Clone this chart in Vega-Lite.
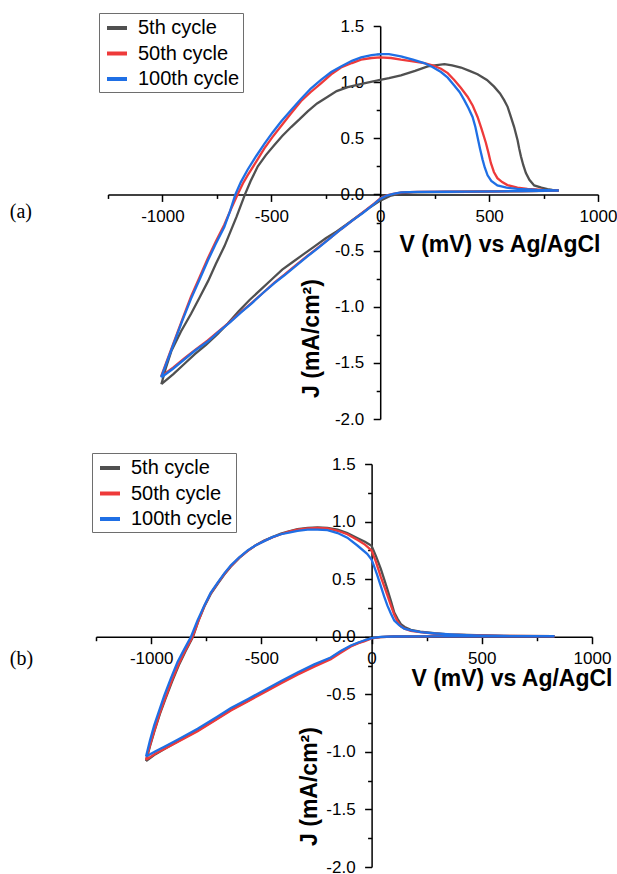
{
  "$schema": "https://vega.github.io/schema/vega-lite/v6.json",
  "background": "white",
  "padding": {"left": 9, "top": 12, "right": 0, "bottom": 0},
  "config": {"view": {"stroke": null}, "font": "Liberation Sans"},
  "columns": 1,
  "bounds": "full",
  "spacing": 25,
  "resolve": {"scale": {"color": "shared"}, "legend": {"color": "independent"}},
  "concat": [
    {
      "width": 502,
      "height": 393,
      "resolve": {"axis": {"x": "independent", "y": "independent"}},
      "layer": [
        {
          "data": {"values": [
            {"cycle": "5th cycle", "V": -1005, "J": -1.69}, {"cycle": "5th cycle", "V": -950, "J": -1.6}, {"cycle": "5th cycle", "V": -900, "J": -1.51}, {"cycle": "5th cycle", "V": -850, "J": -1.42}, {"cycle": "5th cycle", "V": -800, "J": -1.34}, {"cycle": "5th cycle", "V": -745, "J": -1.24}, {"cycle": "5th cycle", "V": -700, "J": -1.15}, {"cycle": "5th cycle", "V": -650, "J": -1.04}, {"cycle": "5th cycle", "V": -600, "J": -0.94}, {"cycle": "5th cycle", "V": -550, "J": -0.85}, {"cycle": "5th cycle", "V": -500, "J": -0.76}, {"cycle": "5th cycle", "V": -450, "J": -0.67}, {"cycle": "5th cycle", "V": -400, "J": -0.6}, {"cycle": "5th cycle", "V": -350, "J": -0.53}, {"cycle": "5th cycle", "V": -300, "J": -0.46}, {"cycle": "5th cycle", "V": -250, "J": -0.39}, {"cycle": "5th cycle", "V": -200, "J": -0.33}, {"cycle": "5th cycle", "V": -150, "J": -0.26}, {"cycle": "5th cycle", "V": -100, "J": -0.19}, {"cycle": "5th cycle", "V": -50, "J": -0.12}, {"cycle": "5th cycle", "V": 0, "J": -0.055}, {"cycle": "5th cycle", "V": 50, "J": -0.01}, {"cycle": "5th cycle", "V": 100, "J": 0.012}, {"cycle": "5th cycle", "V": 150, "J": 0.018}, {"cycle": "5th cycle", "V": 250, "J": 0.02}, {"cycle": "5th cycle", "V": 400, "J": 0.024}, {"cycle": "5th cycle", "V": 550, "J": 0.027}, {"cycle": "5th cycle", "V": 700, "J": 0.03}, {"cycle": "5th cycle", "V": 820, "J": 0.035},
            {"cycle": "5th cycle", "V": 790, "J": 0.04}, {"cycle": "5th cycle", "V": 768, "J": 0.047}, {"cycle": "5th cycle", "V": 740, "J": 0.06}, {"cycle": "5th cycle", "V": 707, "J": 0.08}, {"cycle": "5th cycle", "V": 685, "J": 0.13}, {"cycle": "5th cycle", "V": 669, "J": 0.19}, {"cycle": "5th cycle", "V": 657, "J": 0.26}, {"cycle": "5th cycle", "V": 646, "J": 0.34}, {"cycle": "5th cycle", "V": 638, "J": 0.41}, {"cycle": "5th cycle", "V": 631, "J": 0.48}, {"cycle": "5th cycle", "V": 615, "J": 0.6}, {"cycle": "5th cycle", "V": 600, "J": 0.69}, {"cycle": "5th cycle", "V": 585, "J": 0.78}, {"cycle": "5th cycle", "V": 569, "J": 0.84}, {"cycle": "5th cycle", "V": 550, "J": 0.9}, {"cycle": "5th cycle", "V": 523, "J": 0.96}, {"cycle": "5th cycle", "V": 490, "J": 1.02}, {"cycle": "5th cycle", "V": 447, "J": 1.07}, {"cycle": "5th cycle", "V": 410, "J": 1.1}, {"cycle": "5th cycle", "V": 371, "J": 1.13}, {"cycle": "5th cycle", "V": 330, "J": 1.15}, {"cycle": "5th cycle", "V": 295, "J": 1.16}, {"cycle": "5th cycle", "V": 250, "J": 1.15}, {"cycle": "5th cycle", "V": 218, "J": 1.14}, {"cycle": "5th cycle", "V": 160, "J": 1.1}, {"cycle": "5th cycle", "V": 95, "J": 1.06}, {"cycle": "5th cycle", "V": 40, "J": 1.035}, {"cycle": "5th cycle", "V": 0, "J": 1.02}, {"cycle": "5th cycle", "V": -75, "J": 0.99}, {"cycle": "5th cycle", "V": -149, "J": 0.955}, {"cycle": "5th cycle", "V": -200, "J": 0.92}, {"cycle": "5th cycle", "V": -241, "J": 0.87}, {"cycle": "5th cycle", "V": -290, "J": 0.81}, {"cycle": "5th cycle", "V": -333, "J": 0.74}, {"cycle": "5th cycle", "V": -370, "J": 0.67}, {"cycle": "5th cycle", "V": -409, "J": 0.6}, {"cycle": "5th cycle", "V": -450, "J": 0.52}, {"cycle": "5th cycle", "V": -486, "J": 0.44}, {"cycle": "5th cycle", "V": -525, "J": 0.35}, {"cycle": "5th cycle", "V": -562, "J": 0.25}, {"cycle": "5th cycle", "V": -595, "J": 0.12}, {"cycle": "5th cycle", "V": -621, "J": 0.0}, {"cycle": "5th cycle", "V": -660, "J": -0.2}, {"cycle": "5th cycle", "V": -715, "J": -0.46}, {"cycle": "5th cycle", "V": -755, "J": -0.62}, {"cycle": "5th cycle", "V": -790, "J": -0.77}, {"cycle": "5th cycle", "V": -830, "J": -0.92}, {"cycle": "5th cycle", "V": -868, "J": -1.06}, {"cycle": "5th cycle", "V": -915, "J": -1.22}, {"cycle": "5th cycle", "V": -958, "J": -1.39}, {"cycle": "5th cycle", "V": -985, "J": -1.55}, {"cycle": "5th cycle", "V": -1005, "J": -1.69},

            {"cycle": "50th cycle", "V": -1006, "J": -1.62}, {"cycle": "50th cycle", "V": -950, "J": -1.54}, {"cycle": "50th cycle", "V": -900, "J": -1.46}, {"cycle": "50th cycle", "V": -850, "J": -1.385}, {"cycle": "50th cycle", "V": -792, "J": -1.3}, {"cycle": "50th cycle", "V": -740, "J": -1.215}, {"cycle": "50th cycle", "V": -690, "J": -1.135}, {"cycle": "50th cycle", "V": -639, "J": -1.045}, {"cycle": "50th cycle", "V": -590, "J": -0.965}, {"cycle": "50th cycle", "V": -540, "J": -0.88}, {"cycle": "50th cycle", "V": -486, "J": -0.785}, {"cycle": "50th cycle", "V": -440, "J": -0.715}, {"cycle": "50th cycle", "V": -390, "J": -0.635}, {"cycle": "50th cycle", "V": -333, "J": -0.545}, {"cycle": "50th cycle", "V": -280, "J": -0.465}, {"cycle": "50th cycle", "V": -230, "J": -0.39}, {"cycle": "50th cycle", "V": -180, "J": -0.31}, {"cycle": "50th cycle", "V": -130, "J": -0.235}, {"cycle": "50th cycle", "V": -80, "J": -0.16}, {"cycle": "50th cycle", "V": -27, "J": -0.08}, {"cycle": "50th cycle", "V": 0, "J": -0.035}, {"cycle": "50th cycle", "V": 30, "J": -0.008}, {"cycle": "50th cycle", "V": 60, "J": 0.006}, {"cycle": "50th cycle", "V": 100, "J": 0.018}, {"cycle": "50th cycle", "V": 172, "J": 0.022}, {"cycle": "50th cycle", "V": 300, "J": 0.024}, {"cycle": "50th cycle", "V": 400, "J": 0.025}, {"cycle": "50th cycle", "V": 550, "J": 0.028}, {"cycle": "50th cycle", "V": 650, "J": 0.03}, {"cycle": "50th cycle", "V": 820, "J": 0.035},
            {"cycle": "50th cycle", "V": 750, "J": 0.04}, {"cycle": "50th cycle", "V": 676, "J": 0.05}, {"cycle": "50th cycle", "V": 630, "J": 0.06}, {"cycle": "50th cycle", "V": 584, "J": 0.083}, {"cycle": "50th cycle", "V": 560, "J": 0.11}, {"cycle": "50th cycle", "V": 538, "J": 0.145}, {"cycle": "50th cycle", "V": 522, "J": 0.2}, {"cycle": "50th cycle", "V": 508, "J": 0.28}, {"cycle": "50th cycle", "V": 497, "J": 0.37}, {"cycle": "50th cycle", "V": 485, "J": 0.46}, {"cycle": "50th cycle", "V": 466, "J": 0.58}, {"cycle": "50th cycle", "V": 447, "J": 0.69}, {"cycle": "50th cycle", "V": 425, "J": 0.79}, {"cycle": "50th cycle", "V": 401, "J": 0.87}, {"cycle": "50th cycle", "V": 370, "J": 0.95}, {"cycle": "50th cycle", "V": 340, "J": 1.02}, {"cycle": "50th cycle", "V": 310, "J": 1.08}, {"cycle": "50th cycle", "V": 279, "J": 1.12}, {"cycle": "50th cycle", "V": 240, "J": 1.15}, {"cycle": "50th cycle", "V": 202, "J": 1.17}, {"cycle": "50th cycle", "V": 150, "J": 1.185}, {"cycle": "50th cycle", "V": 95, "J": 1.2}, {"cycle": "50th cycle", "V": 50, "J": 1.215}, {"cycle": "50th cycle", "V": 0, "J": 1.22}, {"cycle": "50th cycle", "V": -40, "J": 1.215}, {"cycle": "50th cycle", "V": -88, "J": 1.2}, {"cycle": "50th cycle", "V": -130, "J": 1.17}, {"cycle": "50th cycle", "V": -180, "J": 1.13}, {"cycle": "50th cycle", "V": -225, "J": 1.07}, {"cycle": "50th cycle", "V": -272, "J": 0.99}, {"cycle": "50th cycle", "V": -320, "J": 0.91}, {"cycle": "50th cycle", "V": -364, "J": 0.83}, {"cycle": "50th cycle", "V": -410, "J": 0.72}, {"cycle": "50th cycle", "V": -455, "J": 0.61}, {"cycle": "50th cycle", "V": -495, "J": 0.51}, {"cycle": "50th cycle", "V": -532, "J": 0.41}, {"cycle": "50th cycle", "V": -570, "J": 0.29}, {"cycle": "50th cycle", "V": -609, "J": 0.17}, {"cycle": "50th cycle", "V": -630, "J": 0.1}, {"cycle": "50th cycle", "V": -655, "J": 0.0}, {"cycle": "50th cycle", "V": -685, "J": -0.13}, {"cycle": "50th cycle", "V": -716, "J": -0.27}, {"cycle": "50th cycle", "V": -755, "J": -0.42}, {"cycle": "50th cycle", "V": -792, "J": -0.57}, {"cycle": "50th cycle", "V": -830, "J": -0.74}, {"cycle": "50th cycle", "V": -869, "J": -0.91}, {"cycle": "50th cycle", "V": -910, "J": -1.12}, {"cycle": "50th cycle", "V": -960, "J": -1.38}, {"cycle": "50th cycle", "V": -1006, "J": -1.62},

            {"cycle": "100th cycle", "V": -1006, "J": -1.63}, {"cycle": "100th cycle", "V": -950, "J": -1.55}, {"cycle": "100th cycle", "V": -900, "J": -1.47}, {"cycle": "100th cycle", "V": -850, "J": -1.39}, {"cycle": "100th cycle", "V": -792, "J": -1.31}, {"cycle": "100th cycle", "V": -740, "J": -1.22}, {"cycle": "100th cycle", "V": -690, "J": -1.14}, {"cycle": "100th cycle", "V": -639, "J": -1.05}, {"cycle": "100th cycle", "V": -590, "J": -0.97}, {"cycle": "100th cycle", "V": -540, "J": -0.88}, {"cycle": "100th cycle", "V": -486, "J": -0.79}, {"cycle": "100th cycle", "V": -440, "J": -0.72}, {"cycle": "100th cycle", "V": -390, "J": -0.64}, {"cycle": "100th cycle", "V": -333, "J": -0.55}, {"cycle": "100th cycle", "V": -280, "J": -0.47}, {"cycle": "100th cycle", "V": -230, "J": -0.39}, {"cycle": "100th cycle", "V": -180, "J": -0.31}, {"cycle": "100th cycle", "V": -130, "J": -0.235}, {"cycle": "100th cycle", "V": -80, "J": -0.165}, {"cycle": "100th cycle", "V": -27, "J": -0.085}, {"cycle": "100th cycle", "V": 0, "J": -0.04}, {"cycle": "100th cycle", "V": 30, "J": -0.01}, {"cycle": "100th cycle", "V": 60, "J": 0.005}, {"cycle": "100th cycle", "V": 95, "J": 0.018}, {"cycle": "100th cycle", "V": 172, "J": 0.022}, {"cycle": "100th cycle", "V": 300, "J": 0.024}, {"cycle": "100th cycle", "V": 401, "J": 0.025}, {"cycle": "100th cycle", "V": 550, "J": 0.028}, {"cycle": "100th cycle", "V": 650, "J": 0.03}, {"cycle": "100th cycle", "V": 820, "J": 0.035},
            {"cycle": "100th cycle", "V": 720, "J": 0.04}, {"cycle": "100th cycle", "V": 630, "J": 0.05}, {"cycle": "100th cycle", "V": 580, "J": 0.06}, {"cycle": "100th cycle", "V": 538, "J": 0.08}, {"cycle": "100th cycle", "V": 510, "J": 0.12}, {"cycle": "100th cycle", "V": 493, "J": 0.17}, {"cycle": "100th cycle", "V": 480, "J": 0.24}, {"cycle": "100th cycle", "V": 470, "J": 0.31}, {"cycle": "100th cycle", "V": 458, "J": 0.41}, {"cycle": "100th cycle", "V": 447, "J": 0.51}, {"cycle": "100th cycle", "V": 437, "J": 0.6}, {"cycle": "100th cycle", "V": 424, "J": 0.69}, {"cycle": "100th cycle", "V": 405, "J": 0.77}, {"cycle": "100th cycle", "V": 386, "J": 0.84}, {"cycle": "100th cycle", "V": 365, "J": 0.91}, {"cycle": "100th cycle", "V": 340, "J": 0.97}, {"cycle": "100th cycle", "V": 310, "J": 1.04}, {"cycle": "100th cycle", "V": 279, "J": 1.09}, {"cycle": "100th cycle", "V": 240, "J": 1.135}, {"cycle": "100th cycle", "V": 202, "J": 1.17}, {"cycle": "100th cycle", "V": 150, "J": 1.2}, {"cycle": "100th cycle", "V": 95, "J": 1.23}, {"cycle": "100th cycle", "V": 40, "J": 1.25}, {"cycle": "100th cycle", "V": 0, "J": 1.25}, {"cycle": "100th cycle", "V": -40, "J": 1.24}, {"cycle": "100th cycle", "V": -88, "J": 1.22}, {"cycle": "100th cycle", "V": -130, "J": 1.19}, {"cycle": "100th cycle", "V": -180, "J": 1.14}, {"cycle": "100th cycle", "V": -225, "J": 1.09}, {"cycle": "100th cycle", "V": -272, "J": 1.02}, {"cycle": "100th cycle", "V": -320, "J": 0.94}, {"cycle": "100th cycle", "V": -364, "J": 0.85}, {"cycle": "100th cycle", "V": -410, "J": 0.75}, {"cycle": "100th cycle", "V": -455, "J": 0.65}, {"cycle": "100th cycle", "V": -495, "J": 0.55}, {"cycle": "100th cycle", "V": -532, "J": 0.45}, {"cycle": "100th cycle", "V": -570, "J": 0.34}, {"cycle": "100th cycle", "V": -609, "J": 0.22}, {"cycle": "100th cycle", "V": -640, "J": 0.11}, {"cycle": "100th cycle", "V": -665, "J": 0.0}, {"cycle": "100th cycle", "V": -690, "J": -0.15}, {"cycle": "100th cycle", "V": -716, "J": -0.29}, {"cycle": "100th cycle", "V": -755, "J": -0.44}, {"cycle": "100th cycle", "V": -792, "J": -0.59}, {"cycle": "100th cycle", "V": -830, "J": -0.76}, {"cycle": "100th cycle", "V": -869, "J": -0.93}, {"cycle": "100th cycle", "V": -910, "J": -1.13}, {"cycle": "100th cycle", "V": -960, "J": -1.39}, {"cycle": "100th cycle", "V": -1006, "J": -1.63}
          ]},
          "encoding": {
            "x": {"field": "V", "type": "quantitative", "scale": {"domain": [-1250, 1000], "range": [12, 502], "nice": false, "zero": false},
              "axis": {"orient": "bottom", "offset": -224.57, "values": [-1250, -1000, -750, -500, -250, 0, 250, 500, 750, 1000],
                "labelExpr": "datum.value % 500 === 0 ? toString(datum.value) : ''",
                "tickSize": {"condition": {"test": "datum.value % 500 === 0", "value": 7}, "value": 4},
                "tickWidth": 1.5, "tickColor": "black", "domainColor": "black", "domainWidth": 1.5, "grid": false,
                "labelFont": "Liberation Sans", "labelFontSize": 17, "labelColor": "black", "labelPadding": 7, "labelOverlap": false, "labelFlush": false,
                "title": "V (mV) vs Ag/AgCl", "titleFont": "Liberation Sans", "titleFontSize": 23, "titleFontWeight": "bold", "titleColor": "black",
                "titleX": 504, "titleY": 50, "titleAlign": "right", "titleBaseline": "middle"}},
            "y": {"field": "J", "type": "quantitative", "scale": {"domain": [-2, 1.5], "nice": false, "zero": false},
              "axis": {"orient": "left", "offset": -284.2, "values": [-2, -1.75, -1.5, -1.25, -1, -0.75, -0.5, -0.25, 0, 0.25, 0.5, 0.75, 1, 1.25, 1.5],
                "labelExpr": "datum.value % 0.5 === 0 ? replace(format(datum.value, '.1f'), '\u2212', '-') : ''",
                "tickSize": {"condition": {"test": "datum.value % 0.5 === 0", "value": 7}, "value": 4},
                "tickWidth": 1.5, "tickColor": "black", "domainColor": "black", "domainWidth": 1.5, "grid": false,
                "labelFont": "Liberation Sans", "labelFontSize": 17, "labelColor": "black", "labelPadding": 9.5, "labelOverlap": false, "labelFlush": false,
                "title": "J (mA/cm²)", "titleFont": "Liberation Sans", "titleFontSize": 23, "titleFontWeight": "bold", "titleColor": "black",
                "titleAngle": -90, "titleX": -69, "titleY": 312, "titleAlign": "center", "titleBaseline": "middle"}},
            "color": {"field": "cycle", "type": "nominal",
              "scale": {"domain": ["5th cycle", "50th cycle", "100th cycle"], "range": ["#505050", "#ee3a3a", "#1f6fe5"]},
              "legend": {"orient": "none", "legendX": 3, "legendY": -13, "title": null, "symbolType": "stroke", "symbolStrokeWidth": 4, "symbolSize": 400, "symbolOffset": 3,
                "labelFont": "Liberation Sans", "labelFontSize": 20, "labelColor": "black", "labelOffset": 9, "rowPadding": 3.5, "padding": 3,
                "strokeColor": "#6e6e6e", "fillColor": "white"}},
            "order": {"value": null}
          },
          "layer": [
            {"transform": [{"filter": "datum.cycle === '5th cycle'"}], "mark": {"type": "line", "strokeWidth": 2.3}},
            {"transform": [{"filter": "datum.cycle === '50th cycle'"}], "mark": {"type": "line", "strokeWidth": 2.3}},
            {"transform": [{"filter": "datum.cycle === '100th cycle'"}], "mark": {"type": "line", "strokeWidth": 2.3}}
          ]
        },
        {
          "data": {"values": [{"panel": "(a)"}]},
          "mark": {"type": "text", "font": "Liberation Serif", "fontSize": 20, "color": "black", "align": "left", "baseline": "middle"},
          "encoding": {
            "x": {"datum": -1701, "scale": {"domain": [-1250, 1000], "range": [12, 502], "nice": false, "zero": false}, "axis": null},
            "y": {"datum": -0.16, "scale": {"domain": [-2, 1.5], "nice": false, "zero": false}, "axis": null},
            "text": {"field": "panel"}
          }
        }
      ]
    },
    {
      "width": 496,
      "height": 403,
      "resolve": {"axis": {"x": "independent", "y": "independent"}},
      "layer": [
        {
          "data": {"values": [
            {"cycle": "5th cycle", "V": -1023, "J": -1.08}, {"cycle": "5th cycle", "V": -980, "J": -1.02}, {"cycle": "5th cycle", "V": -940, "J": -0.975}, {"cycle": "5th cycle", "V": -880, "J": -0.91}, {"cycle": "5th cycle", "V": -789, "J": -0.815}, {"cycle": "5th cycle", "V": -700, "J": -0.71}, {"cycle": "5th cycle", "V": -638, "J": -0.635}, {"cycle": "5th cycle", "V": -560, "J": -0.555}, {"cycle": "5th cycle", "V": -487, "J": -0.475}, {"cycle": "5th cycle", "V": -410, "J": -0.395}, {"cycle": "5th cycle", "V": -336, "J": -0.32}, {"cycle": "5th cycle", "V": -260, "J": -0.25}, {"cycle": "5th cycle", "V": -185, "J": -0.185}, {"cycle": "5th cycle", "V": -140, "J": -0.13}, {"cycle": "5th cycle", "V": -94, "J": -0.08}, {"cycle": "5th cycle", "V": -60, "J": -0.053}, {"cycle": "5th cycle", "V": -34, "J": -0.035}, {"cycle": "5th cycle", "V": 0, "J": -0.013}, {"cycle": "5th cycle", "V": 40, "J": -0.003}, {"cycle": "5th cycle", "V": 100, "J": 0.002}, {"cycle": "5th cycle", "V": 300, "J": 0.003}, {"cycle": "5th cycle", "V": 830, "J": 0.004},
            {"cycle": "5th cycle", "V": 600, "J": 0.008}, {"cycle": "5th cycle", "V": 435, "J": 0.015}, {"cycle": "5th cycle", "V": 350, "J": 0.02}, {"cycle": "5th cycle", "V": 284, "J": 0.03}, {"cycle": "5th cycle", "V": 220, "J": 0.045}, {"cycle": "5th cycle", "V": 178, "J": 0.06}, {"cycle": "5th cycle", "V": 150, "J": 0.085}, {"cycle": "5th cycle", "V": 133, "J": 0.11}, {"cycle": "5th cycle", "V": 118, "J": 0.155}, {"cycle": "5th cycle", "V": 103, "J": 0.21}, {"cycle": "5th cycle", "V": 88, "J": 0.31}, {"cycle": "5th cycle", "V": 72, "J": 0.41}, {"cycle": "5th cycle", "V": 57, "J": 0.5}, {"cycle": "5th cycle", "V": 42, "J": 0.59}, {"cycle": "5th cycle", "V": 20, "J": 0.7}, {"cycle": "5th cycle", "V": 0, "J": 0.79}, {"cycle": "5th cycle", "V": -30, "J": 0.825}, {"cycle": "5th cycle", "V": -63, "J": 0.855}, {"cycle": "5th cycle", "V": -110, "J": 0.9}, {"cycle": "5th cycle", "V": -154, "J": 0.93}, {"cycle": "5th cycle", "V": -200, "J": 0.945}, {"cycle": "5th cycle", "V": -245, "J": 0.95}, {"cycle": "5th cycle", "V": -290, "J": 0.945}, {"cycle": "5th cycle", "V": -336, "J": 0.935}, {"cycle": "5th cycle", "V": -375, "J": 0.915}, {"cycle": "5th cycle", "V": -411, "J": 0.895}, {"cycle": "5th cycle", "V": -450, "J": 0.865}, {"cycle": "5th cycle", "V": -487, "J": 0.835}, {"cycle": "5th cycle", "V": -525, "J": 0.795}, {"cycle": "5th cycle", "V": -562, "J": 0.745}, {"cycle": "5th cycle", "V": -600, "J": 0.685}, {"cycle": "5th cycle", "V": -638, "J": 0.61}, {"cycle": "5th cycle", "V": -668, "J": 0.54}, {"cycle": "5th cycle", "V": -698, "J": 0.46}, {"cycle": "5th cycle", "V": -730, "J": 0.37}, {"cycle": "5th cycle", "V": -759, "J": 0.26}, {"cycle": "5th cycle", "V": -785, "J": 0.14}, {"cycle": "5th cycle", "V": -810, "J": 0.0}, {"cycle": "5th cycle", "V": -845, "J": -0.13}, {"cycle": "5th cycle", "V": -875, "J": -0.25}, {"cycle": "5th cycle", "V": -905, "J": -0.39}, {"cycle": "5th cycle", "V": -935, "J": -0.54}, {"cycle": "5th cycle", "V": -960, "J": -0.67}, {"cycle": "5th cycle", "V": -985, "J": -0.82}, {"cycle": "5th cycle", "V": -1005, "J": -0.95}, {"cycle": "5th cycle", "V": -1023, "J": -1.08},

            {"cycle": "50th cycle", "V": -1023, "J": -1.07}, {"cycle": "50th cycle", "V": -980, "J": -1.015}, {"cycle": "50th cycle", "V": -940, "J": -0.975}, {"cycle": "50th cycle", "V": -880, "J": -0.915}, {"cycle": "50th cycle", "V": -789, "J": -0.82}, {"cycle": "50th cycle", "V": -700, "J": -0.715}, {"cycle": "50th cycle", "V": -638, "J": -0.64}, {"cycle": "50th cycle", "V": -560, "J": -0.56}, {"cycle": "50th cycle", "V": -487, "J": -0.485}, {"cycle": "50th cycle", "V": -410, "J": -0.405}, {"cycle": "50th cycle", "V": -336, "J": -0.33}, {"cycle": "50th cycle", "V": -260, "J": -0.26}, {"cycle": "50th cycle", "V": -185, "J": -0.195}, {"cycle": "50th cycle", "V": -140, "J": -0.14}, {"cycle": "50th cycle", "V": -94, "J": -0.085}, {"cycle": "50th cycle", "V": -60, "J": -0.057}, {"cycle": "50th cycle", "V": -34, "J": -0.04}, {"cycle": "50th cycle", "V": 0, "J": -0.015}, {"cycle": "50th cycle", "V": 40, "J": -0.004}, {"cycle": "50th cycle", "V": 100, "J": 0.002}, {"cycle": "50th cycle", "V": 300, "J": 0.003}, {"cycle": "50th cycle", "V": 830, "J": 0.004},
            {"cycle": "50th cycle", "V": 600, "J": 0.007}, {"cycle": "50th cycle", "V": 435, "J": 0.014}, {"cycle": "50th cycle", "V": 350, "J": 0.019}, {"cycle": "50th cycle", "V": 284, "J": 0.027}, {"cycle": "50th cycle", "V": 220, "J": 0.04}, {"cycle": "50th cycle", "V": 178, "J": 0.05}, {"cycle": "50th cycle", "V": 150, "J": 0.07}, {"cycle": "50th cycle", "V": 133, "J": 0.09}, {"cycle": "50th cycle", "V": 118, "J": 0.13}, {"cycle": "50th cycle", "V": 103, "J": 0.19}, {"cycle": "50th cycle", "V": 88, "J": 0.27}, {"cycle": "50th cycle", "V": 72, "J": 0.36}, {"cycle": "50th cycle", "V": 57, "J": 0.44}, {"cycle": "50th cycle", "V": 42, "J": 0.52}, {"cycle": "50th cycle", "V": 20, "J": 0.65}, {"cycle": "50th cycle", "V": 0, "J": 0.75}, {"cycle": "50th cycle", "V": -30, "J": 0.8}, {"cycle": "50th cycle", "V": -63, "J": 0.84}, {"cycle": "50th cycle", "V": -110, "J": 0.89}, {"cycle": "50th cycle", "V": -154, "J": 0.92}, {"cycle": "50th cycle", "V": -200, "J": 0.94}, {"cycle": "50th cycle", "V": -245, "J": 0.945}, {"cycle": "50th cycle", "V": -290, "J": 0.94}, {"cycle": "50th cycle", "V": -336, "J": 0.93}, {"cycle": "50th cycle", "V": -375, "J": 0.912}, {"cycle": "50th cycle", "V": -411, "J": 0.89}, {"cycle": "50th cycle", "V": -450, "J": 0.863}, {"cycle": "50th cycle", "V": -487, "J": 0.832}, {"cycle": "50th cycle", "V": -525, "J": 0.795}, {"cycle": "50th cycle", "V": -562, "J": 0.745}, {"cycle": "50th cycle", "V": -600, "J": 0.686}, {"cycle": "50th cycle", "V": -638, "J": 0.613}, {"cycle": "50th cycle", "V": -668, "J": 0.545}, {"cycle": "50th cycle", "V": -698, "J": 0.465}, {"cycle": "50th cycle", "V": -730, "J": 0.375}, {"cycle": "50th cycle", "V": -759, "J": 0.265}, {"cycle": "50th cycle", "V": -785, "J": 0.14}, {"cycle": "50th cycle", "V": -812, "J": 0.0}, {"cycle": "50th cycle", "V": -848, "J": -0.13}, {"cycle": "50th cycle", "V": -878, "J": -0.25}, {"cycle": "50th cycle", "V": -908, "J": -0.39}, {"cycle": "50th cycle", "V": -937, "J": -0.54}, {"cycle": "50th cycle", "V": -962, "J": -0.67}, {"cycle": "50th cycle", "V": -986, "J": -0.82}, {"cycle": "50th cycle", "V": -1005, "J": -0.94}, {"cycle": "50th cycle", "V": -1023, "J": -1.07},

            {"cycle": "100th cycle", "V": -1023, "J": -1.04}, {"cycle": "100th cycle", "V": -980, "J": -0.995}, {"cycle": "100th cycle", "V": -940, "J": -0.955}, {"cycle": "100th cycle", "V": -880, "J": -0.895}, {"cycle": "100th cycle", "V": -789, "J": -0.8}, {"cycle": "100th cycle", "V": -700, "J": -0.695}, {"cycle": "100th cycle", "V": -638, "J": -0.62}, {"cycle": "100th cycle", "V": -560, "J": -0.54}, {"cycle": "100th cycle", "V": -487, "J": -0.465}, {"cycle": "100th cycle", "V": -410, "J": -0.385}, {"cycle": "100th cycle", "V": -336, "J": -0.31}, {"cycle": "100th cycle", "V": -260, "J": -0.24}, {"cycle": "100th cycle", "V": -185, "J": -0.18}, {"cycle": "100th cycle", "V": -140, "J": -0.125}, {"cycle": "100th cycle", "V": -94, "J": -0.076}, {"cycle": "100th cycle", "V": -60, "J": -0.05}, {"cycle": "100th cycle", "V": -34, "J": -0.033}, {"cycle": "100th cycle", "V": 0, "J": -0.012}, {"cycle": "100th cycle", "V": 40, "J": -0.002}, {"cycle": "100th cycle", "V": 100, "J": 0.002}, {"cycle": "100th cycle", "V": 300, "J": 0.003}, {"cycle": "100th cycle", "V": 830, "J": 0.004},
            {"cycle": "100th cycle", "V": 700, "J": 0.005}, {"cycle": "100th cycle", "V": 600, "J": 0.006}, {"cycle": "100th cycle", "V": 500, "J": 0.01}, {"cycle": "100th cycle", "V": 430, "J": 0.014}, {"cycle": "100th cycle", "V": 360, "J": 0.02}, {"cycle": "100th cycle", "V": 290, "J": 0.028}, {"cycle": "100th cycle", "V": 224, "J": 0.04}, {"cycle": "100th cycle", "V": 180, "J": 0.055}, {"cycle": "100th cycle", "V": 148, "J": 0.07}, {"cycle": "100th cycle", "V": 125, "J": 0.1}, {"cycle": "100th cycle", "V": 103, "J": 0.14}, {"cycle": "100th cycle", "V": 88, "J": 0.2}, {"cycle": "100th cycle", "V": 72, "J": 0.27}, {"cycle": "100th cycle", "V": 57, "J": 0.35}, {"cycle": "100th cycle", "V": 42, "J": 0.44}, {"cycle": "100th cycle", "V": 25, "J": 0.54}, {"cycle": "100th cycle", "V": 10, "J": 0.62}, {"cycle": "100th cycle", "V": 0, "J": 0.67}, {"cycle": "100th cycle", "V": -20, "J": 0.72}, {"cycle": "100th cycle", "V": -63, "J": 0.79}, {"cycle": "100th cycle", "V": -110, "J": 0.86}, {"cycle": "100th cycle", "V": -154, "J": 0.9}, {"cycle": "100th cycle", "V": -200, "J": 0.925}, {"cycle": "100th cycle", "V": -245, "J": 0.93}, {"cycle": "100th cycle", "V": -290, "J": 0.93}, {"cycle": "100th cycle", "V": -336, "J": 0.92}, {"cycle": "100th cycle", "V": -375, "J": 0.905}, {"cycle": "100th cycle", "V": -411, "J": 0.89}, {"cycle": "100th cycle", "V": -450, "J": 0.865}, {"cycle": "100th cycle", "V": -487, "J": 0.83}, {"cycle": "100th cycle", "V": -525, "J": 0.795}, {"cycle": "100th cycle", "V": -562, "J": 0.75}, {"cycle": "100th cycle", "V": -600, "J": 0.69}, {"cycle": "100th cycle", "V": -638, "J": 0.62}, {"cycle": "100th cycle", "V": -668, "J": 0.55}, {"cycle": "100th cycle", "V": -698, "J": 0.47}, {"cycle": "100th cycle", "V": -730, "J": 0.38}, {"cycle": "100th cycle", "V": -759, "J": 0.27}, {"cycle": "100th cycle", "V": -790, "J": 0.14}, {"cycle": "100th cycle", "V": -819, "J": 0.0}, {"cycle": "100th cycle", "V": -850, "J": -0.11}, {"cycle": "100th cycle", "V": -880, "J": -0.22}, {"cycle": "100th cycle", "V": -910, "J": -0.36}, {"cycle": "100th cycle", "V": -940, "J": -0.51}, {"cycle": "100th cycle", "V": -965, "J": -0.65}, {"cycle": "100th cycle", "V": -986, "J": -0.77}, {"cycle": "100th cycle", "V": -1005, "J": -0.9}, {"cycle": "100th cycle", "V": -1023, "J": -1.04}
          ]},
          "encoding": {
            "x": {"field": "V", "type": "quantitative", "scale": {"domain": [-1250, 1000], "nice": false, "zero": false},
              "axis": {"orient": "bottom", "offset": -230.3, "values": [-1250, -1000, -750, -500, -250, 0, 250, 500, 750, 1000],
                "labelExpr": "datum.value % 500 === 0 ? toString(datum.value) : ''",
                "tickSize": {"condition": {"test": "datum.value % 500 === 0", "value": 7}, "value": 4},
                "tickWidth": 1.5, "tickColor": "black", "domainColor": "black", "domainWidth": 1.5, "grid": false,
                "labelFont": "Liberation Sans", "labelFontSize": 17, "labelColor": "black", "labelPadding": 7, "labelOverlap": false, "labelFlush": false,
                "title": "V (mV) vs Ag/AgCl", "titleFont": "Liberation Sans", "titleFontSize": 23, "titleFontWeight": "bold", "titleColor": "black",
                "titleX": 516, "titleY": 42, "titleAlign": "right", "titleBaseline": "middle"}},
            "y": {"field": "J", "type": "quantitative", "scale": {"domain": [-2, 1.5], "nice": false, "zero": false},
              "axis": {"orient": "left", "offset": -275.6, "values": [-2, -1.75, -1.5, -1.25, -1, -0.75, -0.5, -0.25, 0, 0.25, 0.5, 0.75, 1, 1.25, 1.5],
                "labelExpr": "datum.value % 0.5 === 0 ? replace(format(datum.value, '.1f'), '\u2212', '-') : ''",
                "tickSize": {"condition": {"test": "datum.value % 0.5 === 0", "value": 7}, "value": 4},
                "tickWidth": 1.5, "tickColor": "black", "domainColor": "black", "domainWidth": 1.5, "grid": false,
                "labelFont": "Liberation Sans", "labelFontSize": 17, "labelColor": "black", "labelPadding": 9.5, "labelOverlap": false, "labelFlush": false,
                "title": "J (mA/cm²)", "titleFont": "Liberation Sans", "titleFontSize": 23, "titleFontWeight": "bold", "titleColor": "black",
                "titleAngle": -90, "titleX": -62, "titleY": 322, "titleAlign": "center", "titleBaseline": "middle"}},
            "color": {"field": "cycle", "type": "nominal",
              "scale": {"domain": ["5th cycle", "50th cycle", "100th cycle"], "range": ["#505050", "#ee3a3a", "#1f6fe5"]},
              "legend": {"orient": "none", "legendX": -4, "legendY": -11, "title": null, "symbolType": "stroke", "symbolStrokeWidth": 4, "symbolSize": 400, "symbolOffset": 3,
                "labelFont": "Liberation Sans", "labelFontSize": 20, "labelColor": "black", "labelOffset": 9, "rowPadding": 3.5, "padding": 3,
                "strokeColor": "#6e6e6e", "fillColor": "white"}},
            "order": {"value": null}
          },
          "layer": [
            {"transform": [{"filter": "datum.cycle === '5th cycle'"}], "mark": {"type": "line", "strokeWidth": 2.3}},
            {"transform": [{"filter": "datum.cycle === '50th cycle'"}], "mark": {"type": "line", "strokeWidth": 2.3}},
            {"transform": [{"filter": "datum.cycle === '100th cycle'"}], "mark": {"type": "line", "strokeWidth": 2.3}}
          ]
        },
        {
          "data": {"values": [{"panel": "(b)"}]},
          "mark": {"type": "text", "font": "Liberation Serif", "fontSize": 20, "color": "black", "align": "left", "baseline": "middle"},
          "encoding": {
            "x": {"datum": -1641, "scale": {"domain": [-1250, 1000], "nice": false, "zero": false}, "axis": null},
            "y": {"datum": -0.19, "scale": {"domain": [-2, 1.5], "nice": false, "zero": false}, "axis": null},
            "text": {"field": "panel"}
          }
        }
      ]
    }
  ]
}
